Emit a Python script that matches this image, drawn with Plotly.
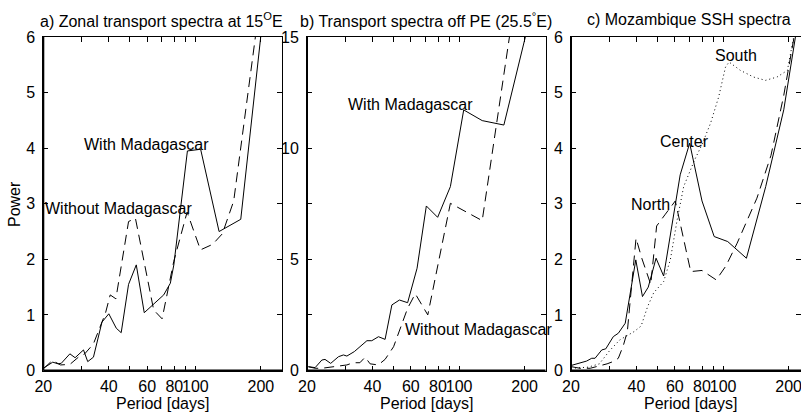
import math
import plotly.graph_objects as go

# ---------------- data ----------------
# a) Zonal transport spectra at 15E
period_a_with = [20, 22.1, 23.4, 24.2, 26.5, 28.0, 30.6, 32.0, 34.0, 37.2, 40, 43.3, 45.6, 49.3, 53.5, 58.2,
                 71.5, 76.7, 79.6, 91.9, 105.7, 128.5, 161.6, 230]
power_a_with = [0.04, 0.15, 0.12, 0.13, 0.30, 0.23, 0.37, 0.16, 0.24, 0.87, 1.02, 0.76, 0.68, 1.55, 1.90, 1.04,
                1.36, 1.57, 1.90, 3.95, 3.98, 2.50, 2.72, 8.2]
period_a_without = [20, 22, 24, 26.5, 29, 31, 34, 36.2, 38.6, 40.6, 43.1, 49.3, 53, 64.3, 70.3, 79.5, 91.6,
                    105.5, 120, 133, 150, 230]
power_a_without = [0.03, 0.18, 0.10, 0.11, 0.24, 0.30, 0.48, 0.76, 1.03, 1.36, 1.29, 2.68, 2.74, 1.09, 0.93,
                   1.96, 2.85, 2.17, 2.27, 2.46, 3.05, 8.55]

# b) Transport spectra off PE (25.5E)
period_b_with = [20.3, 21.8, 23.4, 24.2, 25.7, 27.9, 29.4, 30.5, 33, 35.5, 37.7, 39.7, 42.6, 45.7, 49.1, 53.2,
                 58.0, 64.1, 70.7, 79.7, 91.2, 105, 127.7, 160.6, 230]
power_b_with = [0.17, 0.13, 0.47, 0.50, 0.32, 0.62, 0.70, 0.65, 0.85, 1.10, 1.34, 1.34, 1.52, 1.40, 2.95, 3.17,
                3.05, 4.60, 7.40, 6.89, 8.27, 11.72, 11.24, 11.04, 17.3]
period_b_without = [20.3, 21.8, 23.4, 25.7, 27.9, 30.5, 32.6, 35, 37, 39, 42.5, 45.7, 50, 53.2, 58, 62.9, 71.8,
                    91.2, 127.7, 200]
power_b_without = [0.17, 0.10, 0.10, 0.15, 0.20, 0.25, 0.35, 0.35, 0.60, 0.30, 0.25, 0.50, 1.07, 1.80, 2.80,
                   3.45, 2.50, 7.52, 6.74, 19.6]

# c) Mozambique SSH spectra
period_c_center = [20, 21.6, 23.6, 24.9, 25.8, 27.7, 28.9, 31.3, 33.0, 35.5, 39.7, 42.6, 45.3, 49.2, 53.3,
                   63.5, 70.2, 80, 91, 105, 128, 157, 190, 215, 240]
power_c_center = [0.09, 0.13, 0.17, 0.22, 0.22, 0.37, 0.39, 0.61, 0.67, 0.85, 1.99, 1.33, 1.50, 2.02, 1.70,
                  3.52, 4.09, 3.05, 2.41, 2.32, 2.02, 3.31, 4.69, 6.0, 7.0]
period_c_north = [20, 22, 24.5, 27, 29.3, 31.2, 33, 34.8, 36.3, 39.8, 42.3, 46.5, 49.5, 54, 60.3, 71, 80, 93,
                  103, 116, 143, 166, 190, 212, 240]
power_c_north = [0.07, 0.04, 0.04, 0.08, 0.12, 0.16, 0.22, 0.45, 0.70, 2.38, 2.02, 1.55, 2.60, 2.80, 3.05,
                 1.78, 1.80, 1.63, 1.88, 2.29, 3.10, 3.87, 4.95, 6.0, 7.0]
period_c_south = [20, 24, 27, 30, 33.5, 39, 42, 45, 48, 53.3, 57.2, 61.5, 65.9, 74, 79.9, 87.6, 95.4, 102.6,
                  106.5, 120, 138, 156.6, 177, 197.5, 211, 240]
power_c_south = [0.04, 0.06, 0.12, 0.35, 0.55, 0.70, 0.80, 1.15, 1.40, 1.60, 1.99, 2.71, 3.31, 3.79, 4.06,
                 4.45, 4.92, 5.46, 5.55, 5.40, 5.28, 5.22, 5.28, 5.40, 6.0, 8.0]

x_tick_vals = [20, 30, 40, 50, 60, 70, 80, 90, 100, 200]
x_tick_text = ["20", "", "40", "", "60", "", "80", "", "100", "200"]
y_ticks_ac = [0, 1, 2, 3, 4, 5, 6]
y_ticks_b = [0, 2.5, 5, 7.5, 10, 12.5, 15]
y_text_b = ["0", "", "5", "", "10", "", "15"]

# ---------------- figure ----------------
W, H = 801, 413
FONT = "Liberation Sans, Arial, Helvetica, sans-serif"
SOLID = dict(color="black", width=1)
DASH = dict(color="black", width=1, dash="10px,6px")
DOT = dict(color="black", width=1, dash="1px,3px")

fig = go.Figure()
fig.add_trace(go.Scatter(x=period_a_with, y=power_a_with, mode="lines", line=SOLID, xaxis="x", yaxis="y"))
fig.add_trace(go.Scatter(x=period_a_without, y=power_a_without, mode="lines", line=DASH, xaxis="x", yaxis="y"))
fig.add_trace(go.Scatter(x=period_b_with, y=power_b_with, mode="lines", line=SOLID, xaxis="x2", yaxis="y2"))
fig.add_trace(go.Scatter(x=period_b_without, y=power_b_without, mode="lines", line=DASH, xaxis="x2", yaxis="y2"))
fig.add_trace(go.Scatter(x=period_c_center, y=power_c_center, mode="lines", line=SOLID, xaxis="x3", yaxis="y3"))
fig.add_trace(go.Scatter(x=period_c_north, y=power_c_north, mode="lines", line=DASH, xaxis="x3", yaxis="y3"))
fig.add_trace(go.Scatter(x=period_c_south, y=power_c_south, mode="lines", line=DOT, xaxis="x3", yaxis="y3"))

top_px, bot_px = 37, 370.5
ydom = [(H - bot_px) / H, (H - top_px) / H]
px_per_dec = 217.6
panels = [(43.3, 282), (307, 545.5), (571, 801)]

def xaxis_cfg(left, right):
    span = (right - left) / px_per_dec
    lo = math.log10(20)
    return dict(type="log", domain=[left / W, right / W], range=[lo, lo + span], automargin=False,
                tickvals=x_tick_vals, ticktext=x_tick_text, ticks="inside", ticklen=5, tickwidth=1,
                tickangle=0, tickcolor="black", showline=True, linecolor="black", linewidth=1, mirror="ticks",
                showgrid=False, zeroline=False, tickfont=dict(size=16, family=FONT, color="black"),
                ticklabelstandoff=1, ticklabeloverflow="allow")

def yaxis_cfg(anchor, rng, vals, text):
    return dict(domain=ydom, range=rng, tickvals=vals, ticktext=text, anchor=anchor, ticks="inside",
                automargin=False, ticklen=5, tickwidth=1, tickcolor="black", showline=True, linecolor="black",
                linewidth=1, mirror="ticks", showgrid=False, zeroline=False,
                tickfont=dict(size=16, family=FONT, color="black"), ticklabelstandoff=4,
                ticklabeloverflow="allow")

layout = dict(width=W, height=H, margin=dict(l=0, r=0, t=0, b=0, pad=0), showlegend=False,
              paper_bgcolor="white", plot_bgcolor="white", font=dict(family=FONT, size=16, color="black"))
for i, (l, r) in enumerate(panels):
    sx = "" if i == 0 else str(i + 1)
    layout["xaxis" + sx] = dict(xaxis_cfg(l, r), anchor="y" + sx)
layout["yaxis"] = yaxis_cfg("x", [0, 6], y_ticks_ac, [str(v) for v in y_ticks_ac])
layout["yaxis2"] = yaxis_cfg("x2", [0, 15], y_ticks_b, y_text_b)
layout["yaxis3"] = yaxis_cfg("x3", [0, 6], y_ticks_ac, [str(v) for v in y_ticks_ac])
fig.update_layout(**layout)

# thicker left / bottom axis lines
shapes = []
for sx in ["", "2", "3"]:
    shapes.append(dict(type="line", xref="x%s domain" % sx, yref="y%s domain" % sx, x0=0, x1=1, y0=0, y1=0,
                       line=dict(color="black", width=2)))
    shapes.append(dict(type="line", xref="x%s domain" % sx, yref="y%s domain" % sx, x0=0, x1=0, y0=0, y1=1,
                       line=dict(color="black", width=2)))
fig.update_layout(shapes=shapes)

def ann(text, xpx, ypx, size=16, angle=0, anchor="center"):
    return dict(text=text, x=xpx / W, y=1 - ypx / H, xref="paper", yref="paper", showarrow=False,
                xanchor=anchor, yanchor="middle", textangle=angle,
                font=dict(size=size, family=FONT, color="black"))

annotations = [
    ann("a) Zonal transport spectra at 15<sup>O</sup>E", 38, 20, anchor="left"),
    ann("b) Transport spectra off PE (25.5<sup>°</sup>E)", 298, 20, anchor="left"),
    ann("c) Mozambique SSH spectra", 585, 20, anchor="left"),
    ann("Period [days]", 162.5, 403),
    ann("Period [days]", 426, 403),
    ann("Period [days]", 690.5, 403),
    ann("Power", 14, 204, angle=-90),
    ann("With Madagascar", 82, 144.5, anchor="left"),
    ann("Without Madagascar", 43, 209, anchor="left"),
    ann("With Madagascar", 346, 104.5, anchor="left"),
    ann("Without Madagascar", 402.7, 329.5, anchor="left"),
    ann("South", 712.7, 55, anchor="left"),
    ann("Center", 658, 141.5, anchor="left"),
    ann("North", 629, 204, anchor="left"),
]
fig.update_layout(annotations=annotations)

fig.write_html("out.html", config={"displayModeBar": False},
               post_script="document.body.style.margin='0px';")
